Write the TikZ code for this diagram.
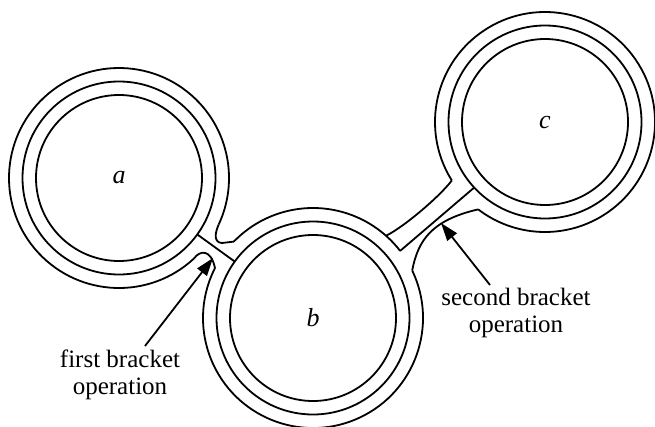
\documentclass[tikz,border=0pt]{standalone}
\usepackage{fontspec}
\setmainfont{Liberation Serif}
\usetikzlibrary{arrows.meta,calc}
\begin{document}
\begin{tikzpicture}[x=1pt,y=1pt,yscale=-1,
  ring/.style={line width=1.8pt, line join=round},
  lbl/.style={font=\fontsize{25}{30}\selectfont, inner sep=0pt},
  body/.style={font=\fontsize{26}{30}\selectfont\itshape, inner sep=0pt},
  pointer/.style={line width=1.8pt, -{Triangle[length=18pt,width=12pt]}}]
\useasboundingbox (0,0) rectangle (655,426);
% centres
\coordinate (a) at (119,178);
\coordinate (b) at (313,318);
\coordinate (c) at (545,122);
% inner and middle circles
\foreach \p in {a,b,c}{
  \draw[ring] (\p) circle[radius=83];
  \draw[ring] (\p) circle[radius=96.5];
}
% outer circles with gaps
\draw[ring] ($(a)+(47:110)$) arc[start angle=47, end angle=385, radius=110];
\draw[ring] ($(b)+(224:110)$) arc[start angle=224, end angle=322.4, radius=110];
\draw[ring] ($(b)+(334.4:110)$) arc[start angle=334.4, end angle=567, radius=110];
\draw[ring] ($(c)+(147.9:110)$) arc[start angle=147.9, end angle=487.4, radius=110];
% bridge a--b
\coordinate (ab1) at ($(a)+(35.8:96.5)$);
\coordinate (ab2) at ($(b)+(215.8:96.5)$);
\draw[ring] (ab1) -- (ab2);
\draw[ring] ($(a)+(25:110)$) .. controls (214.5,234) and (214,242.5) .. (222,243) -- ($(b)+(224:110)$);
\draw[ring] ($(a)+(47:110)$) .. controls (200,250) and (211,249) .. ($(b)+(207:110)$);
% bridge b--c
\coordinate (bc1) at ($(c)+(137.2:96.5)$);
\coordinate (bc2) at ($(b)+(-37.6:110)$);
\draw[ring] (bc1) -- (bc2);
\draw[ring] ($(b)+(-48.4:110)$) .. controls (404,226.9) and (439.8,196.4) .. ($(c)+(147.9:110)$);
\draw[ring] ($(b)+(-25.6:110)$) .. controls (418,240) and (432,220) .. ($(c)+(127.4:110)$);
% labels in the discs
\node[body] (la) at (119,178) {a};
\node[body] (lb) at (313,318) {b};
\node[body] (lc) at (545,122) {c};
% pointer labels
\node[lbl, anchor=base] (l1a) at (120,367) {first bracket};
\node[lbl, anchor=base] (l1b) at (120,394) {operation};
\node[lbl, anchor=base] (l2a) at (516,305) {second bracket};
\node[lbl, anchor=base] (l2b) at (516,332) {operation};
\coordinate (tail1) at (145,346);
\coordinate (tip1) at (213,258);
\coordinate (tail2) at (490,285);
\coordinate (tip2) at (441,223);
\draw[pointer] (tail1) -- (tip1);
\draw[pointer] (tail2) -- (tip2);
\end{tikzpicture}
\end{document}
